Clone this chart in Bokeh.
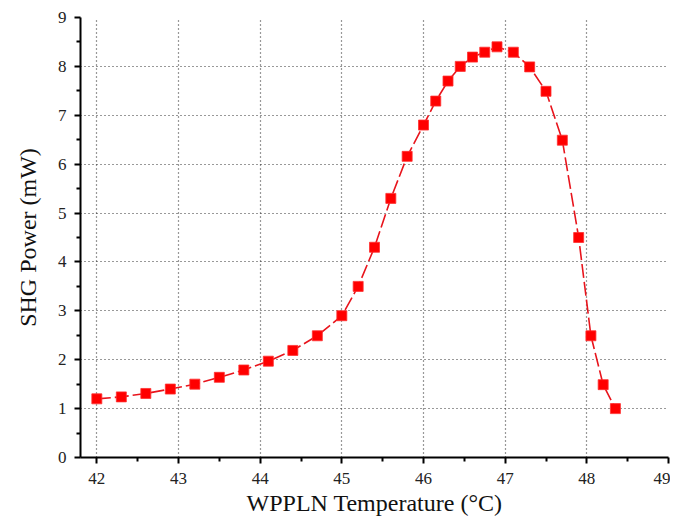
from bokeh.plotting import figure
from bokeh.embed import file_html
from bokeh.resources import INLINE
from bokeh.models import Range1d, FixedTicker

temperature = [42.0, 42.3, 42.6, 42.9, 43.2, 43.5, 43.8, 44.1, 44.4, 44.7,
               45.0, 45.2, 45.4, 45.6, 45.8, 46.0, 46.15, 46.3, 46.45, 46.6,
               46.75, 46.9, 47.1, 47.3, 47.5, 47.7, 47.9, 48.05, 48.2, 48.35]
power = [1.20, 1.24, 1.31, 1.40, 1.50, 1.64, 1.79, 1.97, 2.19, 2.49,
         2.90, 3.50, 4.30, 5.30, 6.16, 6.80, 7.29, 7.70, 8.00, 8.19,
         8.29, 8.40, 8.29, 7.99, 7.49, 6.49, 4.50, 2.49, 1.49, 1.00]

x_ticks = [42, 43, 44, 45, 46, 47, 48, 49]
y_ticks = [0, 1, 2, 3, 4, 5, 6, 7, 8, 9]
x_minor = [41.5, 42.5, 43.5, 44.5, 45.5, 46.5, 47.5, 48.5]
y_minor = [0.5, 1.5, 2.5, 3.5, 4.5, 5.5, 6.5, 7.5, 8.5]

p = figure(width=670, height=518, output_backend="svg", toolbar_location=None,
           x_range=Range1d(41.8, 49.0), y_range=Range1d(0, 9),
           min_border_left=80, min_border_right=2, min_border_top=17,
           min_border_bottom=61)
p.outline_line_color = None
p.background_fill_color = "white"
p.border_fill_color = "white"

p.line(temperature, power, line_color="#e8141c", line_width=1.6, line_dash="14 4")
p.scatter(temperature, power, marker="square", size=10, fill_color="#ff0000",
          line_color="#ff3030", line_width=0.8)

font = "Liberation Serif"
for ax in (p.xaxis[0], p.yaxis[0]):
    ax.axis_line_width = 2
    ax.axis_line_color = "black"
    ax.major_tick_line_width = 2
    ax.minor_tick_line_width = 2
    ax.major_tick_in = 0
    ax.major_tick_out = 6
    ax.minor_tick_in = 0
    ax.minor_tick_out = 4
    ax.major_label_text_font = font
    ax.major_label_text_font_size = "17px"
    ax.major_label_text_color = "#222222"
    ax.axis_label_text_font = font
    ax.axis_label_text_font_size = "24px"
    ax.axis_label_text_font_style = "normal"
    ax.axis_label_text_color = "#111111"

p.xaxis[0].ticker = FixedTicker(ticks=x_ticks, minor_ticks=x_minor)
p.yaxis[0].ticker = FixedTicker(ticks=y_ticks, minor_ticks=y_minor)
p.xaxis[0].axis_label = "WPPLN Temperature (°C)"
p.yaxis[0].axis_label = "SHG Power (mW)"
p.xaxis[0].major_label_standoff = 9
p.yaxis[0].major_label_standoff = 8
p.xaxis[0].axis_label_standoff = 3
p.yaxis[0].axis_label_standoff = 14

p.xgrid[0].ticker = FixedTicker(ticks=[42, 43, 44, 45, 46, 47, 48])
p.ygrid[0].ticker = FixedTicker(ticks=[1, 2, 3, 4, 5, 6, 7, 8])
for g in (p.xgrid[0], p.ygrid[0]):
    g.grid_line_color = "#333333"
    g.grid_line_dash = "1 3"
    g.grid_line_width = 1.2

open("out.html", "w").write(file_html(p, INLINE))
